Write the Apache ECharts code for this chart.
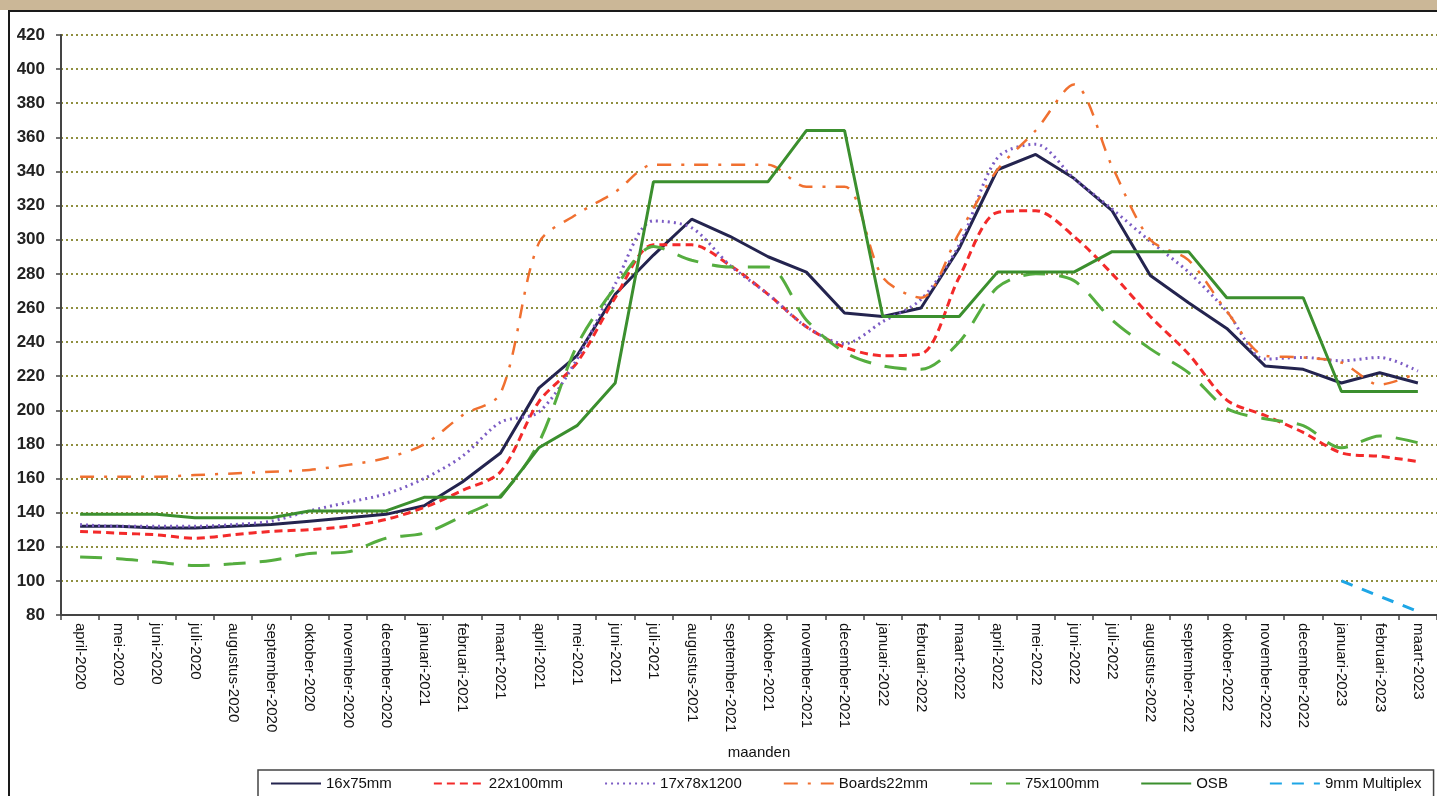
<!DOCTYPE html>
<html>
<head>
<meta charset="utf-8">
<script src="https://cdn.jsdelivr.net/npm/echarts@6/dist/echarts.min.js"></script>
<style>
  html, body { margin: 0; padding: 0; background: #fff; }
  #chart { width: 1437px; height: 796px; }
</style>
</head>
<body>
<div id="chart"></div>
<script>
// maanden april-2020 .. maart-2023
var months = ['april-2020','mei-2020','juni-2020','juli-2020','augustus-2020','september-2020','oktober-2020','november-2020','december-2020',
  'januari-2021','februari-2021','maart-2021','april-2021','mei-2021','juni-2021','juli-2021','augustus-2021','september-2021','oktober-2021','november-2021','december-2021',
  'januari-2022','februari-2022','maart-2022','april-2022','mei-2022','juni-2022','juli-2022','augustus-2022','september-2022','oktober-2022','november-2022','december-2022',
  'januari-2023','februari-2023','maart-2023']

var s16x75 = [132,132,131,131,132,133,135,137,139,144,158,175,213,232,268,291,312,302,290,281,257,255,260,295,341,350,336,317,279,263,248,226,224,216,222,216]
var s22x100 = [129,128,127,125,127,129,130,132,136,143,153,164,205,228,266,297,297,285,268,249,237,232,233,278,316,317,302,280,255,233,206,197,187,175,173,170]
var s17x78 = [133,132,132,132,133,135,141,146,151,160,173,193,199,230,274,311,307,285,268,249,239,252,265,297,348,356,336,318,299,281,258,230,231,229,231,223]
var sBoards = [161,161,161,162,163,164,165,168,172,180,197,210,298,315,328,344,344,344,344,331,331,278,266,304,341,364,391,343,300,288,258,232,231,228,215,222]
var s75x100 = [114,113,111,109,110,112,116,117,125,128,138,150,181,238,272,296,288,284,284,253,234,226,224,240,272,280,276,253,236,222,201,195,191,178,185,181]
var sOSB = [139,139,139,137,137,137,141,141,141,149,149,149,178,191,216,334,334,334,334,364,364,255,255,255,281,281,281,293,293,293,266,266,266,211,211,211]
var s9mm = [null,null,null,null,null,null,null,null,null,null,null,null,null,null,null,null,null,null,null,null,null,null,null,null,null,null,null,null,null,null,null,null,null,100,91,82]

var font = 'Liberation Sans, Arial, sans-serif'

function mkLine(name, data, color, type, width, smooth) {
  return {
    name: name,
    type: 'line',
    data: data,
    symbol: 'none',
    smooth: smooth || false,
    connectNulls: false,
    lineStyle: { color: color, type: type, width: width },
    itemStyle: { color: color }
  }
}

var myChart = echarts.init(document.getElementById('chart'))
myChart.setOption({
  backgroundColor: '#fff',
  animation: false,
  graphic: [
    { type: 'rect', left: 0, top: 0, shape: { width: 1437, height: 10 }, style: { fill: '#cbb797' } },
    { type: 'line', shape: { x1: 8, y1: 11, x2: 1437, y2: 11 }, style: { stroke: '#1a1a1a', lineWidth: 2 } },
    { type: 'line', shape: { x1: 9, y1: 11, x2: 9, y2: 796 }, style: { stroke: '#1a1a1a', lineWidth: 2 } }
  ],
  grid: { left: 61, top: 35, width: 1380, height: 580 },
  legend: {
    left: 258, top: 770, width: 1400,
    padding: [6, 12, 10, 12],
    borderColor: '#444', borderWidth: 1.5,
    itemWidth: 50, itemHeight: 10, itemGap: 41,
    itemStyle: { opacity: 0 },
    textStyle: { fontFamily: font, fontSize: 15, color: '#111' },
    data: ['16x75mm','22x100mm','17x78x1200','Boards22mm','75x100mm','OSB','9mm Multiplex']
  },
  xAxis: {
    type: 'category',
    data: months,
    boundaryGap: true,
    name: 'maanden',
    nameLocation: 'middle',
    nameGap: 130,
    nameTextStyle: { fontFamily: font, fontSize: 15, color: '#111', padding: [0, 0, 0, 20] },
    axisLine: { lineStyle: { color: '#444', width: 2 } },
    axisTick: { show: true, length: 5, alignWithLabel: false, lineStyle: { color: '#444', width: 1.5 } },
    axisLabel: { rotate: -90, interval: 0, margin: 8, fontFamily: font, fontSize: 15, color: '#111' },
    splitLine: { show: false }
  },
  yAxis: {
    type: 'value',
    min: 80, max: 420, interval: 20,
    axisLine: { show: true, lineStyle: { color: '#444', width: 2 } },
    axisTick: { show: true, length: 5, lineStyle: { color: '#444', width: 1.5 } },
    axisLabel: { margin: 16, fontFamily: font, fontSize: 17, fontWeight: 'bold', color: '#222' },
    splitLine: { show: true, lineStyle: { color: '#6b6b00', width: 1.5, type: [2, 3] } }
  },
  series: [
    mkLine('16x75mm', s16x75, '#24244f', 'solid', 3),
    mkLine('22x100mm', s22x100, '#f32a2a', [8, 5], 3, 0.3),
    mkLine('17x78x1200', s17x78, '#7c5cc4', [2, 4], 3, 0.3),
    mkLine('Boards22mm', sBoards, '#f07030', [14, 10, 3, 10], 2.5, 0.3),
    mkLine('75x100mm', s75x100, '#55ad3f', [22, 14], 3, 0.3),
    mkLine('OSB', sOSB, '#3b8f2e', 'solid', 3),
    mkLine('9mm Multiplex', s9mm, '#1ea6e6', [12, 10], 3)
  ]
})
</script>
</body>
</html>
